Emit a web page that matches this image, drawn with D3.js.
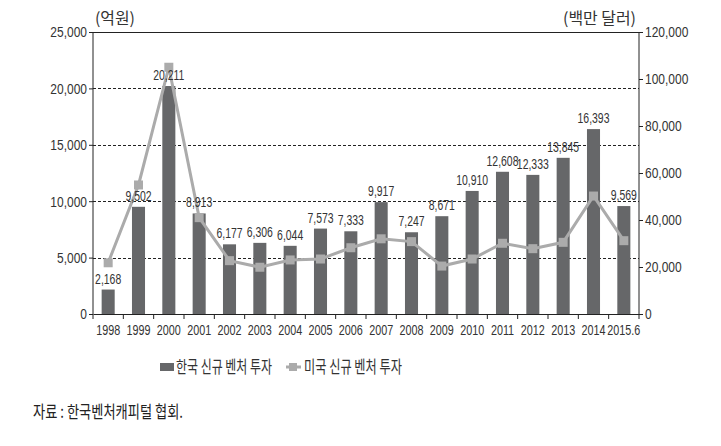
<!DOCTYPE html>
<html><head><meta charset="utf-8">
<script src="https://cdn.jsdelivr.net/npm/d3@7"></script>
<style>
body{margin:0;background:#fff;}
text{font-family:"Liberation Sans","Arial",sans-serif;}
.kr{font-family:"Noto Sans CJK KR","Noto Sans",sans-serif;}
</style></head>
<body><svg id="c" width="721" height="446"></svg>
<script>
const categories = ["1998","1999","2000","2001","2002","2003","2004","2005","2006","2007","2008","2009","2010","2011","2012","2013","2014","2015.6"];
const koreaValues = [2168,9502,20211,8913,6177,6306,6044,7573,7333,9917,7247,8671,10910,12608,12333,13845,16393,9569];
const usValues = [21800,54900,105000,41000,22700,19900,23000,23400,28200,32000,30800,20400,23400,30100,27800,30500,50200,31200];
const leftTicks = [0,5000,10000,15000,20000,25000];
const rightTicks = [0,20000,40000,60000,80000,100000,120000];

const svg = d3.select("#c");
const L=93, R=639, T=32, B=314;
const x = d3.scaleBand().domain(categories).range([L,R]).paddingInner(0.57).paddingOuter(0.285);
const xb = d3.scaleBand().domain(categories).range([L,R]);
const yL = d3.scaleLinear().domain([0,25000]).range([B,T]);
const yR = d3.scaleLinear().domain([0,120000]).range([B,T]);
const fmt = d3.format(",");
function condense(sel, f){
  sel.each(function(){ const w=this.getComputedTextLength(); d3.select(this).attr("textLength",w*f).attr("lengthAdjust","spacingAndGlyphs"); });
}

// gridlines
svg.append("g").selectAll("line").data(leftTicks.filter(d=>d>0&&d<25000)).join("line")
  .attr("x1",L).attr("x2",R).attr("y1",d=>Math.round(yL(d))+0.5).attr("y2",d=>Math.round(yL(d))+0.5)
  .attr("stroke","#222").attr("stroke-width",1).attr("stroke-dasharray","3,2");
svg.append("line").attr("x1",L).attr("x2",R).attr("y1",T+0.5).attr("y2",T+0.5).attr("stroke","#222").attr("stroke-width",1.2);

// bars
svg.append("g").selectAll("rect").data(koreaValues).join("rect")
  .attr("x",(d,i)=>x(categories[i])).attr("width",x.bandwidth())
  .attr("y",d=>yL(d)).attr("height",d=>B-yL(d)).attr("fill","#666769");

// line
const line = d3.line().x((d,i)=>xb(categories[i])+xb.bandwidth()/2).y(d=>yR(d));
svg.append("path").datum(usValues).attr("d",line).attr("fill","none").attr("stroke","#ababab").attr("stroke-width",3);
svg.append("g").selectAll("rect").data(usValues).join("rect")
  .attr("x",(d,i)=>xb(categories[i])+xb.bandwidth()/2-4.5).attr("y",d=>yR(d)-4.5)
  .attr("width",9).attr("height",9).attr("fill","#ababab");

// bar labels
const bl = svg.append("g").selectAll("text").data(koreaValues).join("text")
  .attr("x",(d,i)=>x(categories[i])+x.bandwidth()/2).attr("y",d=>yL(d)-6)
  .attr("text-anchor","middle").attr("font-size",14.5).attr("fill","#333").text(d=>fmt(d));
condense(bl,0.72);

// axes
const gl = svg.append("g").attr("transform",`translate(${L},0)`)
  .call(d3.axisLeft(yL).tickValues(leftTicks).tickFormat(fmt).tickSize(4).tickPadding(2));
const gr = svg.append("g").attr("transform",`translate(${R},0)`)
  .call(d3.axisRight(yR).tickValues(rightTicks).tickFormat(fmt).tickSize(4).tickPadding(2));
const gx = svg.append("g").attr("transform",`translate(0,${B})`)
  .call(d3.axisBottom(xb).tickSize(0).tickPadding(10));
gx.selectAll(".tick line").remove();
gx.append("g").selectAll("line").data(d3.range(categories.length+1)).join("line")
  .attr("x1",i=>L+i*xb.step()).attr("x2",i=>L+i*xb.step()).attr("y1",0).attr("y2",5).attr("stroke","#222");
[gl,gr,gx].forEach(g=>{
  g.selectAll("text").attr("font-size",15).attr("fill","#333").attr("font-family",'"Liberation Sans",Arial,sans-serif');
  g.select(".domain").attr("stroke","#222");
  g.selectAll(".tick line").attr("stroke","#222");
});
condense(gl.selectAll("text"),0.8);
condense(gr.selectAll("text"),0.8);
condense(gx.selectAll("text"),0.72);
gl.select(".domain").attr("d",`M0,${T}V${B}`);
gr.select(".domain").attr("d",`M0,${T}V${B}`);

// units
svg.append("text").attr("class","kr").attr("x",95).attr("y",24).attr("font-size",16).attr("fill","#333")
  .attr("textLength",40).attr("lengthAdjust","spacingAndGlyphs").text("(억원)");
svg.append("text").attr("class","kr").attr("x",563).attr("y",24).attr("font-size",16).attr("fill","#333")
  .attr("textLength",73).attr("lengthAdjust","spacingAndGlyphs").text("(백만 달러)");

// legend
const lg = svg.append("g");
lg.append("rect").attr("x",160).attr("y",363).attr("width",14).attr("height",8).attr("fill","#666769");
lg.append("text").attr("class","kr").attr("x",176).attr("y",373).attr("font-size",17).attr("fill","#333")
  .attr("textLength",96).attr("lengthAdjust","spacingAndGlyphs").text("한국 신규 벤처 투자");
lg.append("line").attr("x1",286).attr("x2",301).attr("y1",367).attr("y2",367).attr("stroke","#ababab").attr("stroke-width",3);
lg.append("rect").attr("x",289).attr("y",363).attr("width",8).attr("height",8).attr("fill","#ababab");
lg.append("text").attr("class","kr").attr("x",304).attr("y",373).attr("font-size",17).attr("fill","#333")
  .attr("textLength",98).attr("lengthAdjust","spacingAndGlyphs").text("미국 신규 벤처 투자");

// source
svg.append("text").attr("class","kr").attr("x",33).attr("y",418).attr("font-size",17).attr("fill","#222")
  .attr("textLength",150).attr("lengthAdjust","spacingAndGlyphs").text("자료 : 한국벤처캐피털 협회.");
</script></body></html>
